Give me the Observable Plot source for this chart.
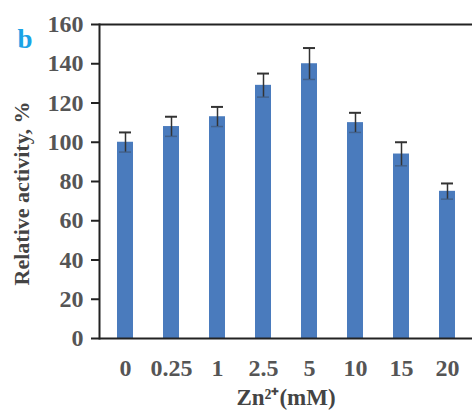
<!DOCTYPE html>
<html>
<head>
<meta charset="utf-8">
<script src="https://cdn.jsdelivr.net/npm/d3@7"></script>
<script src="https://cdn.jsdelivr.net/npm/@observablehq/plot@0.6"></script>
<style>
  html, body { margin: 0; padding: 0; background: #fff; }
  #chart svg { display: block; }
</style>
</head>
<body>
<div id="chart"></div>
<script>
const categories = ["0", "0.25", "1", "2.5", "5", "10", "15", "20"];
const values = [100, 108, 113, 129, 140, 110, 94, 75];
const errors = [5, 5, 5, 6, 8, 5, 6, 4];
const yTicks = [0, 20, 40, 60, 80, 100, 120, 140, 160];
const yLabel = "Relative activity, %";
const xLabel = "Zn²⁺(mM)";
const panelLabel = "b";

const data = categories.map((c, i) => ({cat: c, v: values[i], e: errors[i]}));

const font = "'Liberation Serif', 'Times New Roman', serif";

const chart = Plot.plot({
  width: 472,
  height: 414,
  marginLeft: 99,
  marginRight: 0,
  marginTop: 24,
  marginBottom: 76,
  style: {fontFamily: font, fontWeight: "bold", fontSize: "24px", background: "#fff", color: "#555"},
  x: {domain: categories, paddingInner: 0.66, paddingOuter: 0.33, label: null, axis: null},
  y: {domain: [0, 160], label: null, axis: null},
  marks: [
    Plot.barY(data, {x: "cat", y: "v", fill: "#4a7bbd"}),
    Plot.ruleX(data, {x: "cat", y1: d => d.v - d.e, y2: d => d.v + d.e, stroke: "#333", strokeWidth: 1.5}),
    Plot.tickY(data, {x: "cat", y: d => d.v + d.e, stroke: "#333", strokeWidth: 2, inset: 2}),
    Plot.tickY(data, {x: "cat", y: d => d.v - d.e, stroke: "#333", strokeOpacity: 0.35, strokeWidth: 1.5, inset: 2}),
    Plot.axisY({ticks: yTicks, tickSize: 8, tickFormat: () => "", stroke: "#222", strokeWidth: 2, label: null}),
    Plot.text(yTicks, {y: d => d, frameAnchor: "left", textAnchor: "end", dx: -16, fontSize: 24, fill: "#555", fontWeight: "bold"}),
    Plot.text(categories, {x: d => d, frameAnchor: "bottom", dy: 37, fontSize: 24, fill: "#555", fontWeight: "bold"}),
    Plot.ruleY([0, 160], {stroke: "#222", strokeWidth: 2}),
    Plot.frame({anchor: "left", stroke: "#222", strokeWidth: 2}),
    Plot.text([yLabel], {frameAnchor: "left", textAnchor: "middle", dx: -78, dy: 12, rotate: -90, fontSize: 22, fill: "#444", fontWeight: "bold"}),
    Plot.text([xLabel], {frameAnchor: "bottom", dy: 66, fontSize: 23, fill: "#444", fontWeight: "bold"}),
    Plot.text([panelLabel], {frameAnchor: "top-left", textAnchor: "start", dx: -82, dy: 4, fontSize: 27, fill: "#1ba3e6", fontWeight: "bold"})
  ]
});
document.getElementById("chart").appendChild(chart);
</script>
</body>
</html>
